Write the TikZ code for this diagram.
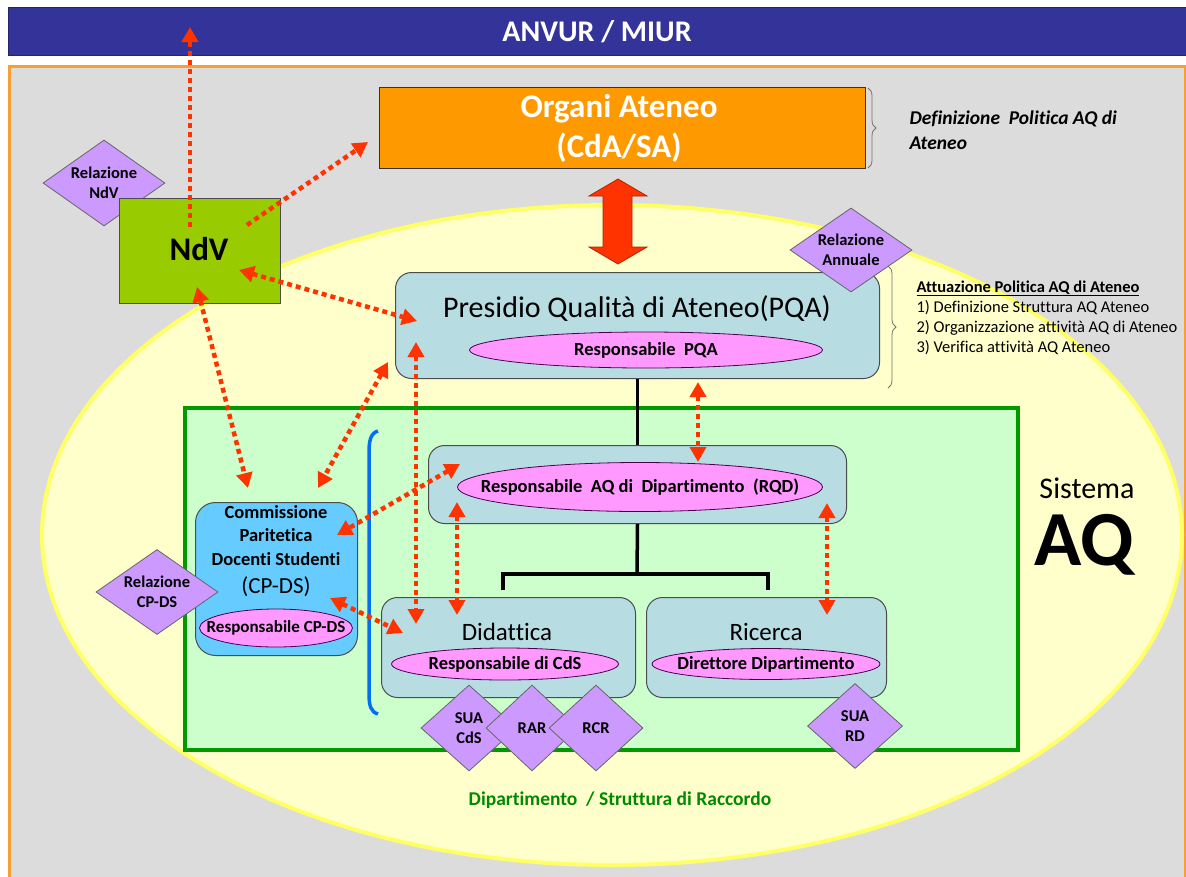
\documentclass[tikz,border=0pt]{standalone}
\usepackage{fontspec}
\setmainfont{Carlito}[Ligatures=NoCommon]
\usetikzlibrary{shapes.geometric,arrows.meta,decorations.pathreplacing}

\definecolor{anvurblue}{HTML}{333399}
\definecolor{framegray}{HTML}{DCDCDC}
\definecolor{frameorange}{HTML}{F5A030}
\definecolor{sysyellow}{HTML}{FFFFCC}
\definecolor{sysborder}{HTML}{FFFF66}
\definecolor{dipgreen}{HTML}{CCFFCC}
\definecolor{dipborder}{HTML}{009900}
\definecolor{organi}{HTML}{FF9900}
\definecolor{ndvgreen}{HTML}{99CC00}
\definecolor{lilac}{HTML}{CC99FF}
\definecolor{resppink}{HTML}{FF99FF}
\definecolor{unitblue}{HTML}{B7DDE3}
\definecolor{cpdsblue}{HTML}{66CCFF}
\definecolor{linkred}{HTML}{FF3300}
\definecolor{bracketblue}{HTML}{0070F0}

\newcommand\fsz[2]{\fontsize{#1}{#2}\selectfont}

\begin{document}
\begin{tikzpicture}[x=1pt, y=-1pt,
  >={Triangle[length=15pt, width=16pt]},
  unit/.style={draw=black!70, fill=unitblue, rounded corners=16pt, line width=1pt, anchor=north west, inner sep=0pt},
  resp/.style={ellipse, draw=violet!60!black, fill=resppink, line width=0.8pt, inner sep=0pt,
    label={[font=\fsz{18.5}{22}\bfseries]center:#1}},
  rel/.style={diamond, draw=black!60, fill=lilac, line width=0.8pt, inner sep=0pt,
    label={[font=\fsz{16.5}{20}\bfseries, align=center]center:#1}},
  link/.style={draw=linkred, line width=4.5pt, dash pattern=on 5pt off 4pt},
  tree/.style={line width=3.5pt},
  sidebrace/.style={draw=black!55, line width=0.8pt, decorate, decoration={brace, amplitude=8pt}}]

  \useasboundingbox (0,0) rectangle (1186,876);
  \fill[white] (0,0) rectangle (1186,876);

  % sfondo
  \begin{scope}
    \clip (0,0) rectangle (1186,876);
    \draw[frameorange, fill=framegray, line width=3pt] (9,66) rectangle (1185,900);
    \node[fill=anvurblue, draw=anvurblue!70!black, anchor=north west, inner sep=0pt,
      minimum width=1182pt, minimum height=48pt] (anvur) at (8,7) {};
  \end{scope}
  \node[anchor=base, text=white, font=\fsz{30}{36}\bfseries] (anvurTxt) at (597,41) {ANVUR / MIUR};

  \draw[sysborder, fill=sysyellow, line width=4pt] (612,535) ellipse [x radius=570, y radius=330];
  \draw[dipborder, fill=dipgreen, line width=4pt] (185,408) rectangle (1018,750);

  % organi
  \node[draw=black!80, fill=organi, line width=1pt, anchor=north west, inner sep=0pt,
    minimum width=486pt, minimum height=81pt] (organi) at (379,87) {};
  \node[anchor=base, text=white, font=\fsz{33}{40}\bfseries] (organiL1) at (619,117) {Organi Ateneo};
  \node[anchor=base, text=white, font=\fsz{33}{40}\bfseries] (organiL2) at (619,157) {(CdA/SA)};
  \draw[sidebrace] (868,88) -- (868,168);
  \node[anchor=base west, font=\fsz{19.5}{24}\bfseries\itshape] (defL1) at (906,124) {Definizione\ \ Politica AQ di};
  \node[anchor=base west, font=\fsz{19.5}{24}\bfseries\itshape] (defL2) at (906,149) {Ateneo};

  % NdV
  \node[rel={Relazione\\NdV}, minimum width=122pt, minimum height=86pt] (relNdV) at (104,183) {};
  \node[draw=black!70, fill=ndvgreen, line width=1pt, anchor=north west, inner sep=0pt,
    minimum width=161pt, minimum height=105pt] (ndv) at (119,198) {};
  \node[anchor=base, font=\fsz{33}{40}\bfseries] (ndvTxt) at (199,260) {NdV};

  \draw[fill=linkred, draw=linkred!70!black, line width=0.8pt]
    (618,179) -- (647,196) -- (632,196) -- (632,247) -- (647,247) -- (618,264)
    -- (589,247) -- (603,247) -- (603,196) -- (589,196) -- cycle;

  % PQA
  \node[unit, minimum width=484pt, minimum height=106pt] (pqa) at (395,272) {};
  \node[anchor=base, font=\fsz{30}{36}] (pqaTxt) at (637,317) {Presidio Qualità di Ateneo(PQA)};
  \node[resp=Responsabile\ \ PQA, minimum width=353pt, minimum height=36pt] (rpqa) at (646,350) {};
  \node[rel={Relazione\\Annuale}, minimum width=122pt, minimum height=84pt] (relPQA) at (851,250) {};
  \draw[sidebrace] (888,266) -- (888,388);
  \node[anchor=base west, font=\fsz{16.5}{20}\bfseries] (attL0) at (913,292) {\underline{Attuazione Politica AQ di Ateneo}};
  \node[anchor=base west, font=\fsz{16.5}{20}] (attL1) at (913,312) {1) Definizione Struttura AQ Ateneo};
  \node[anchor=base west, font=\fsz{16.5}{20}] (attL2) at (913,332) {2) Organizzazione attività AQ di Ateneo};
  \node[anchor=base west, font=\fsz{16.5}{20}] (attL3) at (913,352) {3) Verifica attività AQ Ateneo};

  % dipartimento
  \node[unit, minimum width=418pt, minimum height=78pt] (rqd) at (428,445) {};
  \node[resp=Responsabile\ \ AQ di\ \ Dipartimento\ \ (RQD), minimum width=365pt, minimum height=49pt] (rrqd) at (640,487) {};
  \draw[tree] (pqa.south) -- (rqd.north);

  \coordinate (fork) at (637,574);
  \coordinate (didTop) at (503,590);
  \coordinate (ricTop) at (768,590);
  \draw[tree] (rqd.south) -- (fork);
  \draw[tree] (didTop) |- (fork) -| (ricTop);

  \node[unit, minimum width=254pt, minimum height=100pt] (did) at (381,597) {};
  \node[anchor=base, font=\fsz{25}{30}] (didTxt) at (507,640) {Didattica};
  \node[resp=Responsabile di CdS, minimum width=227pt, minimum height=32pt] (rcds) at (505,664) {};
  \node[unit, minimum width=240pt, minimum height=100pt] (ric) at (646,597) {};
  \node[anchor=base, font=\fsz{25}{30}] (ricTxt) at (766,640) {Ricerca};
  \node[resp=Direttore Dipartimento, minimum width=228pt, minimum height=31pt] (rdir) at (766,664) {};

  \node[rel={SUA\\CdS}, minimum width=96pt, minimum height=86pt] (suaCdS) at (469,728) {};
  \node[rel=RAR, minimum width=92pt, minimum height=86pt] (rar) at (532,728) {};
  \node[rel=RCR, minimum width=94pt, minimum height=86pt] (rcr) at (596,728) {};
  \node[rel={SUA\\RD}, minimum width=95pt, minimum height=85pt] (suaRD) at (855,726) {};

  % CP-DS
  \node[unit, fill=cpdsblue, rounded corners=20pt, minimum width=162pt, minimum height=153pt] (cpds) at (195,502) {};
  \foreach \t/\y in {Commissione/518, Paritetica/541, Docenti Studenti/565}
    \node[anchor=base, font=\fsz{18.5}{22}\bfseries] (cpdsL\y) at (276,\y) {\t};
  \node[anchor=base, font=\fsz{23}{28}] (cpdsSig) at (276,593) {(CP-DS)};
  \node[resp={\fsz{17}{20}\bfseries Responsabile CP-DS}, minimum width=153pt, minimum height=38pt] (rcpds) at (276,628) {};
  \node[rel={Relazione\\CP-DS}, minimum width=122pt, minimum height=85pt] (relCPDS) at (157,592) {};

  \draw[bracketblue, line width=3.5pt] (378,431) .. controls (371,433) and (369,440) .. (369,452)
    -- (369,694) .. controls (369,706) and (371,712) .. (378,714);

  \node[anchor=base, font=\fsz{30}{36}] (sisTxt) at (1087,498) {Sistema};
  \node[anchor=base, font=\fsz{78}{90}\bfseries] (aqTxt) at (1084,565) {AQ};
  \node[anchor=base, text=dipborder!90!black, font=\fsz{19.5}{24}\bfseries] (dipTxt) at (620,805) {Dipartimento\ \ / Struttura di Raccordo};

  % frecce
  \coordinate (ndvUp) at (190,227);   \coordinate (anvurIn) at (190,27);
  \coordinate (ndvOut) at (247,225);  \coordinate (organiIn) at (368,142);
  \coordinate (ndvR) at (239,270);    \coordinate (pqaL) at (417,321);
  \coordinate (ndvB) at (197,287);    \coordinate (cpdsT1) at (248,488);
  \coordinate (pqaB1) at (388,362);   \coordinate (cpdsT2) at (318,488);
  \coordinate (pqaB2) at (416,342);   \coordinate (didT1) at (416,624);
  \coordinate (rqdL) at (460,464);    \coordinate (cpdsR1) at (337,535);
  \coordinate (cpdsR2) at (330,598);  \coordinate (didL) at (403,633);
  \coordinate (rqdB1) at (457,502);   \coordinate (didT2) at (457,615);
  \coordinate (pqaB3) at (698,382);   \coordinate (rqdT) at (698,462);
  \coordinate (rqdB2) at (827,503);   \coordinate (ricT) at (827,615);

  \draw[link, ->] (ndvUp) -- (anvurIn);
  \draw[link, ->] (ndvOut) -- (organiIn);
  \draw[link, <->] (ndvR) -- (pqaL);
  \draw[link, <->] (ndvB) -- (cpdsT1);
  \draw[link, <->] (pqaB1) -- (cpdsT2);
  \draw[link, <->] (pqaB2) -- (didT1);
  \draw[link, <->] (rqdL) -- (cpdsR1);
  \draw[link, <->] (cpdsR2) -- (didL);
  \draw[link, <->] (rqdB1) -- (didT2);
  \draw[link, <->] (pqaB3) -- (rqdT);
  \draw[link, <->] (rqdB2) -- (ricT);
\end{tikzpicture}
\end{document}
